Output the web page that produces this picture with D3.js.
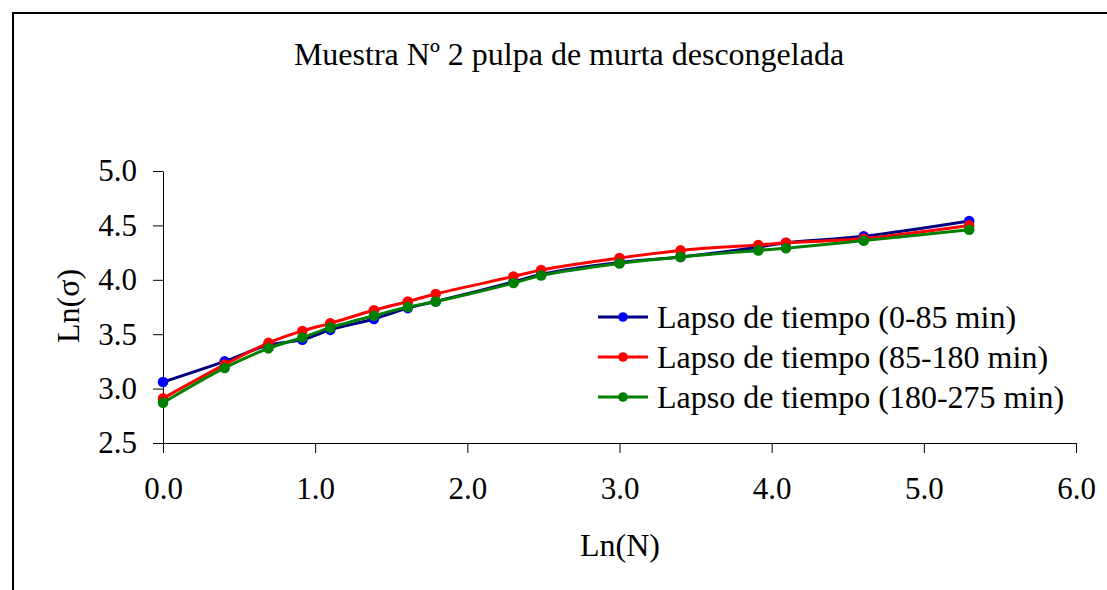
<!DOCTYPE html>
<html><head><meta charset="utf-8">
<script src="https://cdn.jsdelivr.net/npm/d3@7"></script>
<style>body{margin:0;background:#fff}svg{display:block}text{font-family:"Liberation Serif","Times New Roman",serif;fill:#000}</style>
</head><body>
<svg id="c" width="1107" height="590"></svg>
<script>
const lnN = [0, 0.405, 0.693, 0.916, 1.099, 1.386, 1.609, 1.792, 2.303, 2.485, 3.0, 3.401, 3.912, 4.094, 4.605, 5.298];
const serie1 = [3.06, 3.25, 3.40, 3.45, 3.54, 3.64, 3.74, 3.80, 3.98, 4.05, 4.16, 4.21, 4.30, 4.34, 4.40, 4.54];
const serie2 = [2.91, 3.22, 3.42, 3.53, 3.60, 3.72, 3.80, 3.87, 4.03, 4.09, 4.20, 4.27, 4.32, 4.34, 4.38, 4.50];
const serie3 = [2.87, 3.19, 3.37, 3.47, 3.56, 3.67, 3.75, 3.80, 3.97, 4.04, 4.15, 4.21, 4.27, 4.29, 4.36, 4.46];
const seriesNames = ["Lapso de tiempo (0-85 min)", "Lapso de tiempo (85-180 min)", "Lapso de tiempo (180-275 min)"];
const xTicks = [0, 1, 2, 3, 4, 5, 6];
const yTicks = [2.5, 3.0, 3.5, 4.0, 4.5, 5.0];
const title = "Muestra Nº 2 pulpa de murta descongelada";

const styles = [
  {line: "#000080", dot: "#0000FF"},
  {line: "#FF0000", dot: "#FF0000"},
  {line: "#008000", dot: "#008000"}
];
const allSeries = [serie1, serie2, serie3];

const svg = d3.select("#c");
svg.append("rect").attr("x", 13).attr("y", 13).attr("width", 1200).attr("height", 700)
  .attr("fill", "#fff").attr("stroke", "#000").attr("stroke-width", 2);

const x = d3.scaleLinear().domain([0, 6]).range([163, 1076]);
const y = d3.scaleLinear().domain([2.5, 5.0]).range([443, 171]);
const fs = 31;

const gx = svg.append("g").attr("transform", "translate(0,443)")
  .call(d3.axisBottom(x).tickValues(xTicks).tickFormat(d3.format(".1f")).tickSizeOuter(0).tickSizeInner(10).tickPadding(24));
gx.select(".domain").attr("stroke", "#000");
gx.selectAll("line").attr("stroke", "#000");
gx.selectAll("text").style("font-size", fs + "px").style("font-family", "Liberation Serif").attr("fill", "#000");
svg.append("line").attr("x1", 153).attr("x2", 163).attr("y1", 443.5).attr("y2", 443.5).attr("stroke", "#000");

const gy = svg.append("g").attr("transform", "translate(163,0)")
  .call(d3.axisLeft(y).tickValues(yTicks).tickFormat(d3.format(".1f")).tickSizeOuter(0).tickSizeInner(10).tickPadding(16));
gy.select(".domain").attr("stroke", "#000");
gy.selectAll("line").attr("stroke", "#000");
gy.selectAll("text").style("font-size", fs + "px").style("font-family", "Liberation Serif").attr("fill", "#000");

const line = d3.line().x(d => x(d[0])).y(d => y(d[1])).curve(d3.curveCatmullRom.alpha(0.5));
allSeries.forEach((s, i) => {
  const pts = lnN.map((v, j) => [v, s[j]]);
  svg.append("path").datum(pts).attr("d", line).attr("fill", "none")
    .attr("stroke", styles[i].line).attr("stroke-width", 3);
  svg.append("g").selectAll("circle").data(pts).join("circle")
    .attr("cx", d => x(d[0])).attr("cy", d => y(d[1])).attr("r", 5.3)
    .attr("fill", styles[i].dot);
});

svg.append("text").attr("x", 569).attr("y", 65).attr("text-anchor", "middle")
  .style("font-size", "32px").text(title);
svg.append("text").attr("x", 620).attr("y", 556).attr("text-anchor", "middle")
  .style("font-size", "32px").text("Ln(N)");
svg.append("text").attr("transform", "translate(79,306) rotate(-90)").attr("text-anchor", "middle")
  .style("font-size", "32px").text("Ln(σ)");

const legY = [317, 357, 397];
seriesNames.forEach((n, i) => {
  const g = svg.append("g");
  g.append("line").attr("x1", 598).attr("x2", 648).attr("y1", legY[i]).attr("y2", legY[i])
    .attr("stroke", styles[i].line).attr("stroke-width", 3);
  g.append("circle").attr("cx", 623).attr("cy", legY[i]).attr("r", 4.8).attr("fill", styles[i].dot);
  g.append("text").attr("x", 657).attr("y", legY[i] + 11).style("font-size", "32px").text(n);
});
</script>
</body></html>
